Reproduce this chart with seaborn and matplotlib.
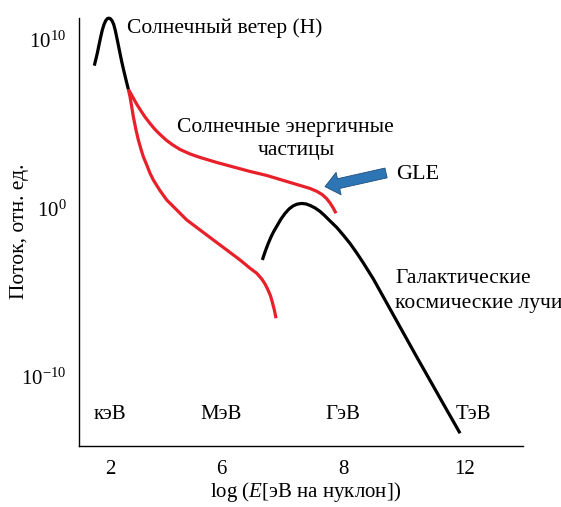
import numpy as np
import pandas as pd
import matplotlib
matplotlib.use("Agg")
import matplotlib.pyplot as plt
import seaborn as sns

# ---- data (x = log E position, y = log10 of relative flux) ----
sw_x = [2.602, 2.637, 2.678, 2.721, 2.764, 2.805, 2.848, 2.891, 2.932, 2.967,
        3.008, 3.051, 3.094, 3.134, 3.185, 3.236, 3.297, 3.355, 3.406, 3.464]
sw_y = [8.475, 8.813, 9.211, 9.703, 10.178, 10.593, 10.920, 11.145, 11.264, 11.294,
        11.264, 11.145, 10.920, 10.564, 10.000, 9.407, 8.712, 8.119, 7.626, 7.074]

sep_hi_x = [3.464, 3.532, 3.609, 3.697, 3.786, 3.887, 4.014, 4.141, 4.268, 4.420,
            4.572, 4.775, 5.028, 5.282, 5.705, 6.126, 6.550, 6.973, 7.394, 7.817,
            8.071, 8.248, 8.375, 8.489, 8.578, 8.662, 8.730]
sep_hi_y = [7.074, 6.795, 6.469, 6.113, 5.786, 5.430, 5.045, 4.688, 4.392, 4.065,
            3.798, 3.501, 3.234, 3.027, 2.730, 2.463, 2.196, 1.958, 1.662, 1.365,
            1.187, 1.009, 0.831, 0.593, 0.326, 0.012, -0.285]

sep_lo_x = [3.464, 3.507, 3.550, 3.591, 3.659, 3.718, 3.804, 3.844, 3.931, 4.014,
            4.098, 4.268, 4.438, 4.691, 4.945, 5.282, 5.619, 5.959, 6.296, 6.550,
            6.720, 6.846, 6.930, 7.006, 7.070, 7.120, 7.166, 7.209]
sep_lo_y = [7.074, 6.635, 6.042, 5.448, 4.659, 4.065, 3.371, 3.074, 2.582, 2.089,
            1.691, 1.056, 0.504, -0.089, -0.682, -1.276, -1.869, -2.463, -3.056, -3.549,
            -3.846, -4.184, -4.481, -4.837, -5.193, -5.608, -6.024, -6.516]

gcr_x = [6.862, 6.930, 7.006, 7.082, 7.158, 7.247, 7.336, 7.437, 7.539, 7.640,
         7.741, 7.861, 7.970, 8.071, 8.198, 8.325, 8.451, 8.578, 8.748, 8.915,
         9.085, 9.255, 9.422, 9.676, 9.930, 10.183, 10.437, 10.776, 11.114, 11.494,
         11.874]
gcr_y = [-3.056, -2.582, -2.107, -1.691, -1.335, -0.979, -0.623, -0.297, -0.030, 0.148,
         0.255, 0.297, 0.267, 0.178, 0.030, -0.178, -0.445, -0.742, -1.128, -1.585,
         -2.077, -2.641, -3.234, -4.184, -5.252, -6.320, -7.389, -8.813, -10.208, -11.780,
         -13.341]

xtick_pos = [3.0, 5.814, 8.908, 12.0]
xtick_labels = ["2", "6", "8", "12"]
ytick_pos = [1e-10, 1e0, 1e10]
ytick_labels = [r"$10^{-10}$", r"$10^{0}$", r"$10^{10}$"]
unit_pos = [3.0, 5.814, 8.908, 12.204]
unit_labels = ["кэВ", "МэВ", "ГэВ", "ТэВ"]

sns.set_theme(style="white")
plt.rcParams["font.family"] = ["Liberation Serif", "DejaVu Serif"]
plt.rcParams["mathtext.fontset"] = "custom"
plt.rcParams["mathtext.rm"] = "Liberation Serif"
plt.rcParams["mathtext.it"] = "Liberation Serif:italic"
plt.rcParams["text.color"] = "black"
plt.rcParams["axes.labelcolor"] = "black"
plt.rcParams["xtick.color"] = "black"
plt.rcParams["ytick.color"] = "black"

fig = plt.figure(figsize=(5.61, 5.07), dpi=100)
ax = fig.add_axes([79 / 561, (507 - 445.7) / 507, (523 - 79) / 561, (445.7 - 17.7) / 507])

RED = "#e8202a"
LW = 2.3

def draw(xs, ys, color):
    df = pd.DataFrame({"x": xs, "flux": 10.0 ** np.asarray(ys)})
    sns.lineplot(data=df, x="x", y="flux", sort=False, estimator=None,
                 color=color, lw=LW, ax=ax, clip_on=False,
                 solid_capstyle="butt", solid_joinstyle="round")

draw(sep_hi_x, sep_hi_y, RED)
draw(sep_lo_x, sep_lo_y, RED)
draw(sw_x, sw_y, "black")
draw(gcr_x, gcr_y, "black")

ax.set_yscale("log")
ax.set_xlim(2.214, 13.47)
ax.set_ylim(10 ** -14.08, 10 ** 11.32)
ax.set_xticks(xtick_pos)
ax.set_xticklabels(xtick_labels)
ax.set_yticks(ytick_pos)
ax.set_yticklabels(ytick_labels)
ax.minorticks_off()
ax.tick_params(axis="both", direction="in", length=7.5, width=1.0,
               labelsize=15, colors="black")
ax.tick_params(axis="x", pad=10)
ax.tick_params(axis="y", pad=9)

for s in ["top", "right"]:
    ax.spines[s].set_visible(False)
for s in ["left", "bottom"]:
    ax.spines[s].set_color("black")
    ax.spines[s].set_linewidth(1.0)

ax.set_ylabel("Поток, отн. ед.", fontsize=15.5, color="black")
ax.yaxis.set_label_coords(-0.112, 0.5)
ax.set_xlabel(r"log ($E$[эВ на нуклон])", fontsize=15, color="black")
ax.xaxis.set_label_coords(0.511, -0.080)

fs = 15.5
ax.text(3.439, 10 ** 10.40, "Солнечный ветер (H)", fontsize=fs, ha="left", va="baseline", color="black")
ax.text(7.437, 10 ** 4.558, "Солнечные энергичные", fontsize=fs, ha="center", va="baseline", color="black")
ax.text(7.729, 10 ** 3.175, "частицы", fontsize=fs, ha="center", va="baseline", color="black")
ax.text(10.25, 10 ** 1.733, "GLE", fontsize=16, ha="left", va="baseline", color="black")
ax.text(10.226, 10 ** -4.44, "Галактические", fontsize=fs, ha="left", va="baseline", color="black")
ax.text(10.226, 10 ** -5.92, "космические лучи", fontsize=fs, ha="left", va="baseline", color="black")
for xp, lab in zip(unit_pos, unit_labels):
    ax.text(xp, 10 ** -12.51, lab, fontsize=15, ha="center", va="baseline", color="black")

ax.annotate("", xy=(8.451, 10 ** 1.294), xytext=(9.998, 10 ** 2.107),
            arrowprops=dict(arrowstyle="simple,head_length=1.0,head_width=1.65,tail_width=0.72",
                            mutation_scale=10, fc="#2e75b6", ec="#1f4e79", lw=0.6,
                            shrinkA=0, shrinkB=0))

fig.savefig("out.png", dpi=100)
